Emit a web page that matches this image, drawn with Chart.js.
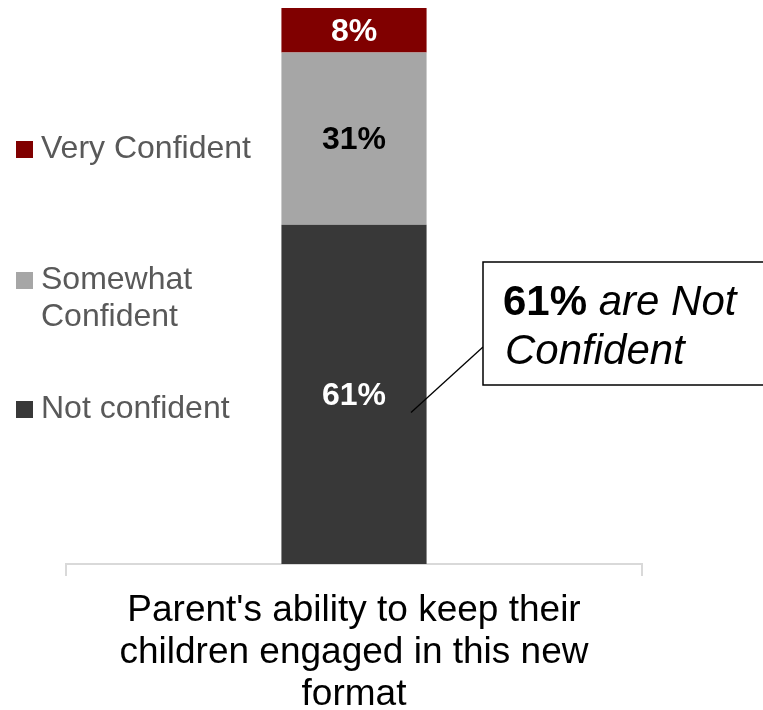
<!DOCTYPE html>
<html>
<head>
<meta charset="utf-8">
<script src="https://cdn.jsdelivr.net/npm/chart.js@4/dist/chart.umd.min.js"></script>
<style>
  html, body { margin: 0; padding: 0; background: #fff; }
  #wrap { width: 763px; height: 710px; position: relative; }
</style>
</head>
<body>
<div id="wrap"><canvas id="confChart"></canvas></div>
<script>
const categories = [["Parent's ability to keep their", "children engaged in this new", "format"]];
const seriesNames = ["Not confident", "Somewhat Confident", "Very Confident"];
const notConfident = [61];
const somewhatConfident = [31];
const veryConfident = [8];
const seriesColors = ["#383838", "#a6a6a6", "#800000"];
const labelColors = ["#ffffff", "#000000", "#ffffff"];

const FONT = "'Liberation Sans', Arial, sans-serif";

// legend on the left, drawn by hand like the original slide
const sideLegend = {
  id: "sideLegend",
  afterDraw(chart) {
    const ctx = chart.ctx;
    const rows = [
      { i: 2, lines: ["Very Confident"], y: 149 },
      { i: 1, lines: ["Somewhat", "Confident"], y: 280 },
      { i: 0, lines: ["Not confident"], y: 409 }
    ];
    ctx.save();
    ctx.font = "32px " + FONT;
    ctx.textBaseline = "middle";
    rows.forEach((r) => {
      ctx.fillStyle = seriesColors[r.i];
      ctx.fillRect(16, r.y - 8, 17, 17);
      ctx.fillStyle = "#595959";
      r.lines.forEach((t, k) => ctx.fillText(t, 41, r.y + k * 37));
    });
    ctx.restore();
  }
};

// percent labels inside the bars
const barLabels = {
  id: "barLabels",
  afterDatasetsDraw(chart) {
    const ctx = chart.ctx;
    ctx.save();
    ctx.font = "bold 32px " + FONT;
    ctx.textAlign = "center";
    ctx.textBaseline = "middle";
    chart.data.datasets.forEach((ds, i) => {
      const meta = chart.getDatasetMeta(i);
      meta.data.forEach((bar, j) => {
        ctx.fillStyle = labelColors[i];
        ctx.fillText(ds.data[j] + "%", bar.x, (bar.y + bar.base) / 2 + 2);
      });
    });
    ctx.restore();
  }
};

// callout box
const callout = {
  id: "callout",
  afterDraw(chart) {
    const ctx = chart.ctx;
    const bar = chart.getDatasetMeta(0).data[0];
    const sx = bar.x + 57, sy = (bar.y + bar.base) / 2 + 18;
    const bx = 483, by = 262, bw = 290, bh = 123;
    ctx.save();
    ctx.strokeStyle = "#000";
    ctx.lineWidth = 1.3;
    ctx.beginPath();
    ctx.moveTo(sx, sy);
    ctx.lineTo(bx, 347);
    ctx.stroke();
    ctx.fillStyle = "#fff";
    ctx.fillRect(bx, by, bw, bh);
    ctx.lineWidth = 1.5;
    ctx.strokeRect(bx, by, bw, bh);
    ctx.fillStyle = "#000";
    ctx.textBaseline = "alphabetic";
    ctx.font = "bold 42px " + FONT;
    ctx.fillText("61%", 503, 315);
    const w = ctx.measureText("61% ").width;
    ctx.font = "italic 42px " + FONT;
    ctx.fillText("are Not", 503 + w, 315);
    ctx.fillText("Confident", 505, 364);
    ctx.restore();
  }
};

new Chart(document.getElementById("confChart"), {
  type: "bar",
  data: {
    labels: categories,
    datasets: [
      { label: seriesNames[0], data: notConfident, backgroundColor: seriesColors[0] },
      { label: seriesNames[1], data: somewhatConfident, backgroundColor: seriesColors[1] },
      { label: seriesNames[2], data: veryConfident, backgroundColor: seriesColors[2] }
    ]
  },
  options: {
    responsive: true,
    maintainAspectRatio: false,
    animation: false,
    layout: { padding: { left: 66, right: 121, top: 8, bottom: 0 } },
    datasets: { bar: { barPercentage: 1, categoryPercentage: 0.252 } },
    plugins: { legend: { display: false }, tooltip: { enabled: false } },
    scales: {
      x: {
        stacked: true,
        grid: { drawOnChartArea: false, color: "#d9d9d9", tickLength: 12, lineWidth: 2 },
        border: { color: "#d9d9d9", width: 2 },
        ticks: { color: "#000", padding: 14, font: { family: FONT, size: 37, lineHeight: 1.13 } },
        afterFit: (s) => { s.height = 146; }
      },
      y: { stacked: true, display: false, min: 0, max: 100 }
    }
  },
  plugins: [sideLegend, barLabels, callout]
});
</script>
</body>
</html>
